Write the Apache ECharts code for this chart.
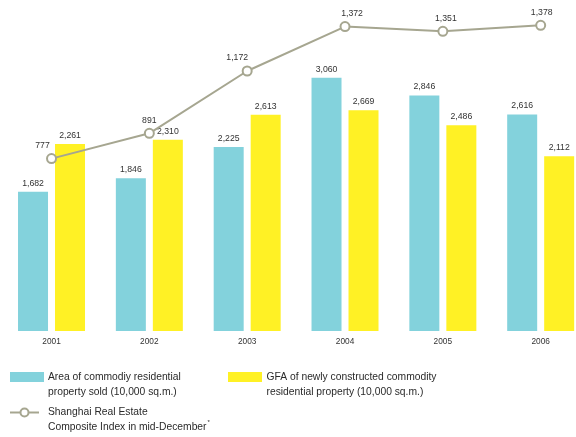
<!DOCTYPE html>
<html>
<head>
<meta charset="utf-8">
<script src="https://cdn.jsdelivr.net/npm/echarts@6/dist/echarts.min.js"></script>
<style>
html,body{margin:0;padding:0;background:#fff;}
#chart{width:576px;height:437px;}
</style>
</head>
<body>
<div id="chart"></div>
<script>
const years = ['2001', '2002', '2003', '2004', '2005', '2006'];
const areaSold = [1682, 1846, 2225, 3060, 2846, 2616];
const gfaNew = [2261, 2310, 2613, 2669, 2486, 2112];
const indexDec = [777, 891, 1172, 1372, 1351, 1378];

const CYAN = '#83d2dc';
const YELLOW = '#fff125';
const LINE = '#a6a690';
const FONT = '"Liberation Sans", Arial, sans-serif';

const fmt = v => v.toLocaleString('en-US');
const lineLabelShift = [-9, 0, -10, 7, 3, 1];

const chart = echarts.init(document.getElementById('chart'), null, {renderer: 'canvas'});
chart.setOption({
  animation: false,
  backgroundColor: '#fff',
  grid: {left: 2.6, width: 587, top: 0, height: 331, outerBoundsMode: 'none', containLabel: false},
  xAxis: {
    type: 'category',
    data: years,
    axisLine: {show: false},
    axisTick: {show: false},
    axisLabel: {color: '#333', fontSize: 8.3, fontFamily: FONT, margin: 7}
  },
  yAxis: [
    {type: 'value', min: 0, max: 4000, show: false, splitLine: {show: false}},
    {type: 'value', min: 0, max: 1492, show: false, splitLine: {show: false}}
  ],
  series: [
    {
      type: 'bar', name: 'Area of commodiy residential property sold (10,000 sq.m.)',
      data: areaSold, barWidth: 30, barGap: '23.3%',
      itemStyle: {color: CYAN},
      label: {show: true, position: 'top', distance: 4, color: '#333', fontSize: 8.7, fontFamily: FONT,
        formatter: p => fmt(p.value)}
    },
    {
      type: 'bar', name: 'GFA of newly constructed commodity residential property (10,000 sq.m.)',
      data: gfaNew, barWidth: 30, barGap: '23.3%',
      itemStyle: {color: YELLOW},
      label: {show: true, position: 'top', distance: 4, color: '#333', fontSize: 8.7, fontFamily: FONT,
        formatter: p => fmt(p.value)}
    },
    {
      type: 'line', name: 'Shanghai Real Estate Composite Index in mid-December',
      yAxisIndex: 1, z: 5,
      data: indexDec.map((v, i) => ({value: v, label: {offset: [lineLabelShift[i], 0]}})),
      symbol: 'circle', symbolSize: 9,
      lineStyle: {color: LINE, width: 2},
      itemStyle: {color: '#fff', borderColor: LINE, borderWidth: 2},
      label: {show: true, position: 'top', distance: 3, color: '#333', fontSize: 8.7, fontFamily: FONT,
        formatter: p => fmt(p.value)}
    }
  ],
  graphic: [
    {type: 'rect', shape: {x: 10, y: 372, width: 34, height: 10}, style: {fill: CYAN}},
    {type: 'text', x: 48, y: 370, style: {text: 'Area of commodiy residential\nproperty sold (10,000 sq.m.)',
      fill: '#2a2a2a', fontSize: 10.3, fontFamily: FONT, lineHeight: 14.5, verticalAlign: 'top'}},
    {type: 'rect', shape: {x: 228, y: 372, width: 34, height: 10}, style: {fill: YELLOW}},
    {type: 'text', x: 266.5, y: 370, style: {text: 'GFA of newly constructed commodity\nresidential property (10,000 sq.m.)',
      fill: '#2a2a2a', fontSize: 10.3, fontFamily: FONT, lineHeight: 14.5, verticalAlign: 'top'}},
    {type: 'line', shape: {x1: 10, y1: 412.5, x2: 39, y2: 412.5}, style: {stroke: LINE, lineWidth: 2}},
    {type: 'circle', shape: {cx: 24.5, cy: 412.5, r: 4}, style: {fill: '#fff', stroke: LINE, lineWidth: 2}},
    {type: 'text', x: 48, y: 405, style: {
      text: 'Shanghai Real Estate\nComposite Index in mid-December{s|*}',
      fill: '#2a2a2a', fontSize: 10.3, fontFamily: FONT, lineHeight: 14.5, verticalAlign: 'top',
      rich: {s: {fontSize: 6, fill: '#2a2a2a', verticalAlign: 'top', padding: [0, 0, 8, 1]}}}}
  ]
});
</script>
</body>
</html>
